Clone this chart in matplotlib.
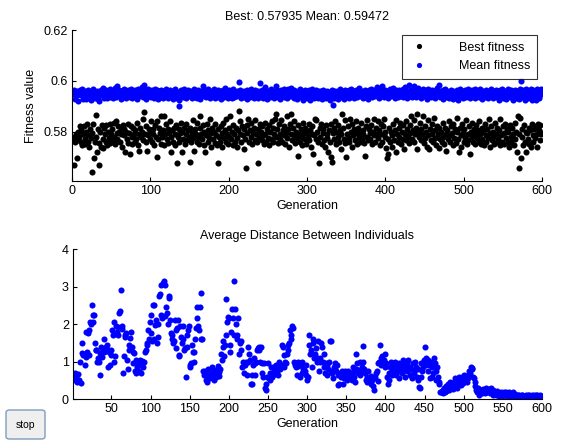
import numpy as np
import matplotlib
matplotlib.use("Agg")
import matplotlib.pyplot as plt
from matplotlib.patches import FancyBboxPatch

plt.rcParams['font.family'] = ['Liberation Sans', 'DejaVu Sans']

# Best fitness per generation, in units of 1e-4
best_fitness_e4 = [
    5775, 5670, 5780, 5760, 5790, 5765, 5695, 5800, 5780, 5820,
    5760, 5805, 5745, 5790, 5820, 5770, 5750, 5800, 5830, 5760,
    5785, 5740, 5810, 5775, 5640, 5795, 5830, 5695, 5760, 5865,
    5780, 5720, 5810, 5755, 5670, 5800, 5740, 5825, 5770, 5735,
    5815, 5790, 5760, 5825, 5745, 5800, 5775, 5830, 5755, 5790,
    5810, 5765, 5835, 5780, 5750, 5840, 5795, 5770, 5820, 5800,
    5760, 5815, 5790, 5740, 5825, 5785, 5810, 5720, 5800, 5770,
    5830, 5755, 5795, 5710, 5820, 5780, 5750, 5815, 5790, 5760,
    5805, 5770, 5835, 5745, 5790, 5725, 5815, 5780, 5800, 5850,
    5765, 5875, 5790, 5760, 5820, 5725, 5785, 5810, 5770, 5795,
    5840, 5760, 5810, 5790, 5745, 5825, 5780, 5840, 5700, 5770,
    5815, 5795, 5750, 5860, 5780, 5805, 5860, 5745, 5790, 5830,
    5770, 5810, 5755, 5795, 5840, 5780, 5720, 5805, 5760, 5815,
    5790, 5745, 5825, 5675, 5780, 5810, 5760, 5795, 5835, 5720,
    5800, 5770, 5815, 5750, 5790, 5830, 5765, 5805, 5780, 5680,
    5815, 5760, 5795, 5845, 5775, 5725, 5810, 5790, 5760, 5835,
    5780, 5750, 5815, 5860, 5790, 5770, 5825, 5745, 5800, 5720,
    5785, 5830, 5760, 5805, 5775, 5850, 5740, 5795, 5815, 5770,
    5800, 5755, 5830, 5785, 5745, 5675, 5810, 5780, 5760, 5820,
    5795, 5740, 5835, 5775, 5805, 5760, 5850, 5790, 5750, 5815,
    5780, 5860, 5770, 5800, 5745, 5825, 5790, 5760, 5815, 5775,
    5740, 5805, 5880, 5790, 5840, 5760, 5820, 5785, 5730, 5810,
    5770, 5655, 5825, 5795, 5850, 5760, 5805, 5780, 5835, 5750,
    5795, 5815, 5765, 5845, 5790, 5760, 5675, 5810, 5780, 5830,
    5800, 5765, 5820, 5785, 5750, 5835, 5790, 5760, 5810, 5775,
    5825, 5745, 5800, 5770, 5840, 5760, 5815, 5790, 5850, 5870,
    5780, 5810, 5755, 5830, 5790, 5770, 5845, 5760, 5805, 5785,
    5820, 5750, 5795, 5860, 5775, 5810, 5740, 5830, 5790, 5870,
    5765, 5815, 5785, 5840, 5755, 5800, 5775, 5705, 5825, 5790,
    5760, 5810, 5780, 5745, 5835, 5795, 5770, 5815, 5750, 5800,
    5780, 5830, 5765, 5805, 5740, 5790, 5820, 5710, 5785, 5850,
    5770, 5845, 5800, 5760, 5675, 5815, 5780, 5830, 5750, 5795,
    5810, 5765, 5740, 5825, 5790, 5775, 5720, 5805, 5760, 5830,
    5700, 5680, 5795, 5815, 5770, 5840, 5750, 5800, 5780, 5825,
    5760, 5805, 5730, 5790, 5870, 5815, 5770, 5845, 5755, 5700,
    5790, 5820, 5775, 5760, 5850, 5800, 5740, 5830, 5785, 5810,
    5765, 5795, 5840, 5750, 5815, 5780, 5800, 5760, 5835, 5770,
    5805, 5790, 5755, 5705, 5820, 5780, 5845, 5765, 5810, 5795,
    5770, 5825, 5750, 5800, 5785, 5850, 5760, 5815, 5790, 5840,
    5775, 5805, 5745, 5830, 5790, 5760, 5820, 5850, 5780, 5800,
    5735, 5695, 5710, 5770, 5815, 5760, 5800, 5740, 5785, 5830,
    5765, 5805, 5720, 5845, 5790, 5760, 5815, 5780, 5835, 5750,
    5800, 5770, 5825, 5730, 5790, 5840, 5765, 5810, 5780, 5755,
    5825, 5795, 5860, 5770, 5805, 5760, 5845, 5790, 5815, 5870,
    5730, 5800, 5780, 5835, 5765, 5810, 5790, 5860, 5755, 5820,
    5775, 5800, 5740, 5845, 5785, 5730, 5810, 5765, 5830, 5790,
    5760, 5855, 5775, 5805, 5745, 5820, 5790, 5735, 5815, 5770,
    5800, 5760, 5835, 5780, 5750, 5815, 5790, 5725, 5805, 5770,
    5840, 5785, 5760, 5820, 5795, 5745, 5830, 5775, 5810, 5755,
    5800, 5855, 5770, 5720, 5815, 5785, 5740, 5830, 5795, 5760,
    5810, 5775, 5845, 5750, 5790, 5765, 5820, 5710, 5800, 5780,
    5835, 5760, 5810, 5790, 5750, 5825, 5775, 5805, 5760, 5840,
    5790, 5750, 5815, 5770, 5800, 5745, 5830, 5785, 5760, 5810,
    5775, 5850, 5795, 5740, 5820, 5765, 5800, 5780, 5750, 5835,
    5790, 5760, 5815, 5770, 5805, 5745, 5850, 5785, 5760, 5820,
    5795, 5750, 5830, 5775, 5810, 5760, 5800, 5740, 5825, 5780,
    5760, 5815, 5790, 5745, 5835, 5770, 5800, 5720, 5860, 5655,
    5790, 5855, 5695, 5810, 5780, 5745, 5825, 5760, 5800, 5720,
    5795, 5770, 5815, 5750, 5805, 5740, 5830, 5785, 5760, 5810,
    5775, 5820, 5790, 5740, 5830, 5805, 5765, 5825, 5790, 5794,
]

# Mean fitness per generation, in units of 1e-4
mean_fitness_e4 = [
    5955, 5948, 5962, 5928, 5951, 5944, 5958, 5921, 5949, 5965,
    5942, 5955, 5966, 5927, 5950, 5961, 5945, 5929, 5956, 5935,
    5963, 5947, 5952, 5925, 5958, 5944, 5969, 5950, 5931, 5957,
    5946, 5961, 5930, 5953, 5919, 5948, 5965, 5942, 5956, 5970,
    5932, 5951, 5962, 5945, 5933, 5958, 5949, 5966, 5936, 5954,
    5960, 5931, 5952, 5947, 5972, 5935, 5957, 5980, 5945, 5963,
    5950, 5929, 5961, 5948, 5955, 5969, 5937, 5958, 5932, 5952,
    5964, 5946, 5953, 5935, 5967, 5951, 5933, 5959, 5945, 5962,
    5949, 5957, 5930, 5966, 5952, 5938, 5961, 5948, 5974, 5935,
    5956, 5985, 5947, 5962, 5928, 5954, 5968, 5940, 5959, 5951,
    5936, 5964, 5950, 5957, 5933, 5969, 5946, 5953, 5962, 5930,
    5958, 5948, 5965, 5937, 5955, 5934, 5961, 5950, 5940, 5967,
    5952, 5931, 5960, 5947, 5963, 5936, 5956, 5949, 5929, 5958,
    5944, 5966, 5951, 5933, 5957, 5925, 5900, 5953, 5962, 5941,
    5955, 5935, 5968, 5948, 5959, 5931, 5952, 5964, 5938, 5957,
    5949, 5961, 5932, 5954, 5941, 5967, 5937, 5958, 5951, 5934,
    5963, 5947, 5956, 5929, 5960, 5945, 5979, 5939, 5955, 5962,
    5936, 5953, 5968, 5941, 5957, 5933, 5961, 5949, 5955, 5938,
    5966, 5951, 5931, 5958, 5942, 5964, 5937, 5953, 5960, 5930,
    5956, 5943, 5962, 5935, 5971, 5950, 5940, 5959, 5933, 5954,
    5963, 5941, 5952, 5932, 5958, 5966, 5936, 5955, 5944, 5961,
    5939, 5957, 5995, 5945, 5965, 5934, 5953, 5941, 5960, 5937,
    5956, 5944, 5928, 5962, 5942, 5954, 5935, 5968, 5951, 5938,
    5959, 5931, 5952, 5965, 5940, 5957, 5933, 5961, 5943, 5990,
    5950, 5939, 5963, 5934, 5956, 5975, 5942, 5953, 5930, 5960,
    5941, 5958, 5936, 5966, 5952, 5938, 5961, 5932, 5955, 5978,
    5943, 5964, 5935, 5957, 5945, 5930, 5962, 5940, 5953, 5969,
    5937, 5956, 5943, 5960, 5932, 5966, 5951, 5939, 5958, 5972,
    5941, 5953, 5934, 5962, 5944, 5956, 5929, 5961, 5940, 5952,
    5967, 5935, 5955, 5943, 5924, 5958, 5938, 5964, 5951, 5932,
    5956, 5941, 5962, 5926, 5953, 5968, 5939, 5957, 5934, 5950,
    5963, 5942, 5955, 5931, 5960, 5944, 5937, 5958, 5928, 5952,
    5965, 5940, 5956, 5934, 5961, 5945, 5938, 5957, 5925, 5954,
    5942, 5962, 5905, 5951, 5933, 5958, 5939, 5955, 5928, 5961,
    5944, 5966, 5935, 5953, 5941, 5959, 5930, 5964, 5945, 5937,
    5957, 5943, 5963, 5933, 5954, 5969, 5939, 5951, 5960, 5931,
    5955, 5942, 5964, 5936, 5958, 5945, 5972, 5940, 5953, 5961,
    5934, 5956, 5943, 5965, 5937, 5957, 5946, 5929, 5962, 5941,
    5954, 5967, 5935, 5958, 5944, 5963, 5939, 5955, 5975, 5942,
    5960, 5933, 5953, 5966, 5940, 5980, 5945, 5937, 5958, 5964,
    5941, 5955, 5934, 5961, 5946, 5968, 5938, 5957, 5943, 5970,
    5953, 5931, 5962, 5942, 5956, 5935, 5965, 5945, 5939, 5959,
    5952, 5967, 5936, 5955, 5976, 5943, 5960, 5933, 5957, 5985,
    5941, 5963, 5951, 5937, 5958, 5980, 5944, 5964, 5935, 5956,
    5953, 5970, 5940, 5961, 5932, 5957, 5945, 5966, 5938, 5958,
    5943, 5962, 5930, 5955, 5969, 5941, 5959, 5936, 5953, 5965,
    5945, 5939, 5961, 5932, 5956, 5972, 5943, 5985, 5952, 5935,
    5958, 5941, 5963, 5930, 5954, 5967, 5944, 5937, 5960, 5951,
    5933, 5957, 5940, 5965, 5945, 5928, 5961, 5942, 5955, 5938,
    5962, 5944, 5926, 5956, 5966, 5939, 5958, 5951, 5932, 5960,
    5943, 5963, 5935, 5955, 5969, 5941, 5957, 5931, 5952, 5964,
    5938, 5958, 5945, 5967, 5933, 5955, 5942, 5961, 5936, 5953,
    5966, 5940, 5957, 5929, 5960, 5945, 5937, 5963, 5943, 5956,
    5934, 5961, 5952, 5939, 5968, 5942, 5955, 5931, 5959, 5945,
    5964, 5937, 5957, 5943, 5925, 5962, 5946, 5939, 5966, 5934,
    5956, 5944, 5961, 5930, 5955, 5968, 5941, 5958, 5936, 5952,
    5963, 5942, 5924, 5957, 5945, 5965, 5933, 5960, 5940, 5955,
    5927, 5968, 6000, 5944, 5935, 5962, 5948, 5924, 5966, 5941,
    5957, 5931, 5961, 5945, 5938, 5967, 5923, 5955, 5963, 5936,
    5958, 5925, 5966, 5944, 5956, 5934, 5962, 5946, 5968, 5947,
]

# Average distance between individuals per generation, in hundredths
avg_distance_e2 = [
    50, 62, 70, 66, 58, 45, 48, 68, 52, 100,
    44, 122, 150, 118, 120, 92, 112, 180, 125, 175,
    118, 185, 205, 200, 250, 225, 205, 225, 150, 130,
    130, 100, 110, 98, 65, 122, 140, 112, 130, 125,
    160, 128, 138, 145, 132, 85, 125, 90, 118, 130,
    185, 170, 100, 205, 115, 195, 180, 192, 170, 230,
    235, 292, 195, 188, 70, 115, 170, 165, 175, 105,
    80, 130, 145, 162, 178, 140, 125, 95, 122, 75,
    70, 105, 85, 92, 75, 100, 105, 70, 102, 98,
    85, 100, 125, 130, 145, 150, 185, 160, 205, 225,
    175, 155, 250, 252, 160, 198, 210, 150, 165, 200,
    275, 280, 305, 225, 215, 310, 315, 305, 222, 245,
    230, 200, 275, 270, 212, 175, 160, 170, 150, 155,
    210, 185, 135, 190, 210, 118, 115, 195, 165, 150,
    195, 160, 130, 135, 60, 140, 170, 185, 195, 90,
    85, 95, 145, 125, 100, 125, 160, 190, 215, 245,
    195, 185, 245, 282, 160, 160, 75, 65, 70, 75,
    50, 45, 62, 80, 65, 55, 70, 85, 60, 72,
    52, 68, 78, 58, 64, 88, 72, 62, 80, 120,
    105, 155, 140, 115, 145, 268, 170, 205, 220, 215,
    145, 125, 180, 240, 215, 170, 315, 240, 200, 160,
    172, 217, 120, 150, 130, 155, 85, 100, 70, 95,
    90, 100, 65, 100, 140, 120, 105, 40, 65, 40,
    90, 110, 65, 95, 100, 130, 135, 130, 140, 100,
    138, 95, 70, 60, 95, 30, 40, 25, 60, 95,
    55, 50, 70, 85, 60, 70, 65, 75, 88, 90,
    85, 75, 65, 100, 92, 80, 90, 144, 140, 85,
    118, 100, 95, 120, 145, 130, 150, 185, 170, 160,
    195, 190, 100, 90, 95, 85, 65, 100, 88, 92,
    60, 95, 70, 100, 80, 88, 75, 65, 90, 50,
    60, 170, 145, 120, 130, 85, 160, 150, 110, 120,
    135, 100, 110, 155, 75, 100, 110, 150, 140, 100,
    85, 120, 70, 95, 65, 90, 80, 100, 155, 75,
    155, 70, 55, 85, 95, 80, 75, 90, 65, 38,
    40, 70, 60, 75, 72, 40, 55, 75, 65, 70,
    50, 75, 70, 55, 65, 70, 50, 72, 85, 60,
    45, 80, 120, 95, 70, 78, 100, 65, 75, 85,
    142, 100, 80, 70, 50, 45, 60, 75, 48, 55,
    40, 62, 50, 35, 24, 55, 60, 70, 75, 48,
    95, 100, 145, 110, 90, 115, 95, 105, 85, 120,
    95, 60, 40, 70, 50, 85, 100, 75, 65, 80,
    90, 100, 70, 65, 90, 80, 95, 55, 75, 85,
    70, 90, 105, 80, 60, 85, 95, 75, 105, 80,
    65, 85, 80, 55, 95, 75, 70, 100, 85, 60,
    50, 80, 32, 30, 95, 60, 75, 85, 105, 90,
    140, 110, 95, 75, 105, 90, 55, 100, 60, 85,
    70, 110, 95, 75, 50, 85, 60, 40, 45, 20,
    18, 22, 15, 25, 30, 18, 22, 35, 28, 40,
    25, 35, 45, 30, 40, 28, 45, 35, 55, 40,
    30, 50, 45, 60, 55, 38, 48, 60, 42, 55,
    65, 50, 60, 45, 65, 55, 75, 70, 85, 80,
    82, 60, 55, 45, 35, 25, 20, 30, 15, 12,
    18, 25, 15, 20, 28, 22, 15, 30, 25, 18,
    22, 28, 15, 20, 30, 18, 12, 25, 20, 15,
    10, 18, 22, 12, 8, 15, 20, 10, 8, 14,
    18, 10, 12, 20, 8, 15, 10, 18, 12, 6,
    8, 12, 18, 6, 10, 14, 5, 8, 10, 12,
    6, 8, 5, 10, 12, 7, 9, 5, 8, 11,
    6, 10, 12, 8, 5, 9, 11, 7, 6, 10,
    8, 12, 7, 10, 5, 9, 11, 6, 8, 5,
]

top_title = "Best: 0.57935 Mean: 0.59472"
bottom_title = "Average Distance Between Individuals"
top_xticks = [0, 100, 200, 300, 400, 500, 600]
top_yticks = [0.58, 0.6, 0.62]
top_yticklabels = ["0.58", "0.6", "0.62"]
bottom_xticks = [50, 100, 150, 200, 250, 300, 350, 400, 450, 500, 550, 600]
bottom_yticks = [0, 1, 2, 3, 4]

best = np.array(best_fitness_e4) / 10000.0
mean = np.array(mean_fitness_e4) / 10000.0
dist = np.array(avg_distance_e2) / 100.0
gens = np.arange(1, len(best) + 1)

FS = 9
MS = 4.4
W, H = 570, 444
fig = plt.figure(figsize=(W / 100, H / 100), dpi=100)
fig.patch.set_facecolor("white")


def style(ax):
    for s in ("top", "right"):
        ax.spines[s].set_visible(False)
    for s in ("left", "bottom"):
        ax.spines[s].set_linewidth(0.8)
        ax.spines[s].set_color("black")
    ax.tick_params(direction="in", length=3, width=0.8, labelsize=FS, colors="black", pad=3)


ax1 = fig.add_axes([72 / W, 1 - 181 / H, 470 / W, 151 / H])
ax1.plot(gens, best, "o", color="black", ms=MS, mew=0, label="Best fitness")
ax1.plot(gens, mean, "o", color="#0000ff", ms=MS, mew=0, label="Mean fitness")
ax1.set_xlim(0, 600)
ax1.set_ylim(0.5605, 0.62)
ax1.set_xticks(top_xticks)
ax1.set_yticks(top_yticks)
ax1.set_yticklabels(top_yticklabels)
style(ax1)
ax1.set_title(top_title, fontsize=FS, pad=7)
ax1.set_xlabel("Generation", fontsize=FS, labelpad=2)
ax1.set_ylabel("Fitness value", fontsize=FS, labelpad=5)
leg = ax1.legend(loc="upper right", bbox_to_anchor=(0.989, 0.967), borderaxespad=0,
                 fontsize=FS, frameon=True, fancybox=False, handletextpad=2.4,
                 handlelength=1.6, borderpad=0.55, labelspacing=0.5, markerscale=0.85)
leg.get_frame().set_edgecolor("black")
leg.get_frame().set_linewidth(0.8)

ax2 = fig.add_axes([73 / W, 1 - 399 / H, 469 / W, 150 / H])
ax2.plot(gens, dist, "o", color="#0000ff", ms=MS, mew=0)
ax2.set_xlim(1, 600)
ax2.set_ylim(0, 4)
ax2.set_xticks(bottom_xticks)
ax2.set_yticks(bottom_yticks)
style(ax2)
ax2.set_title(bottom_title, fontsize=FS, pad=7)
ax2.set_xlabel("Generation", fontsize=FS, labelpad=2)

# "stop" button
btn = FancyBboxPatch((6 / W, 5 / H), 39 / W, 29 / H,
                     boxstyle="round,pad=0,rounding_size=0.006",
                     transform=fig.transFigure, facecolor="#efefef",
                     edgecolor="#7f9db9", linewidth=1.0)
fig.patches.append(btn)
fig.text(25.5 / W, 19.5 / H, "stop", ha="center", va="center", fontsize=7.5)

fig.savefig("out.png", dpi=100)
